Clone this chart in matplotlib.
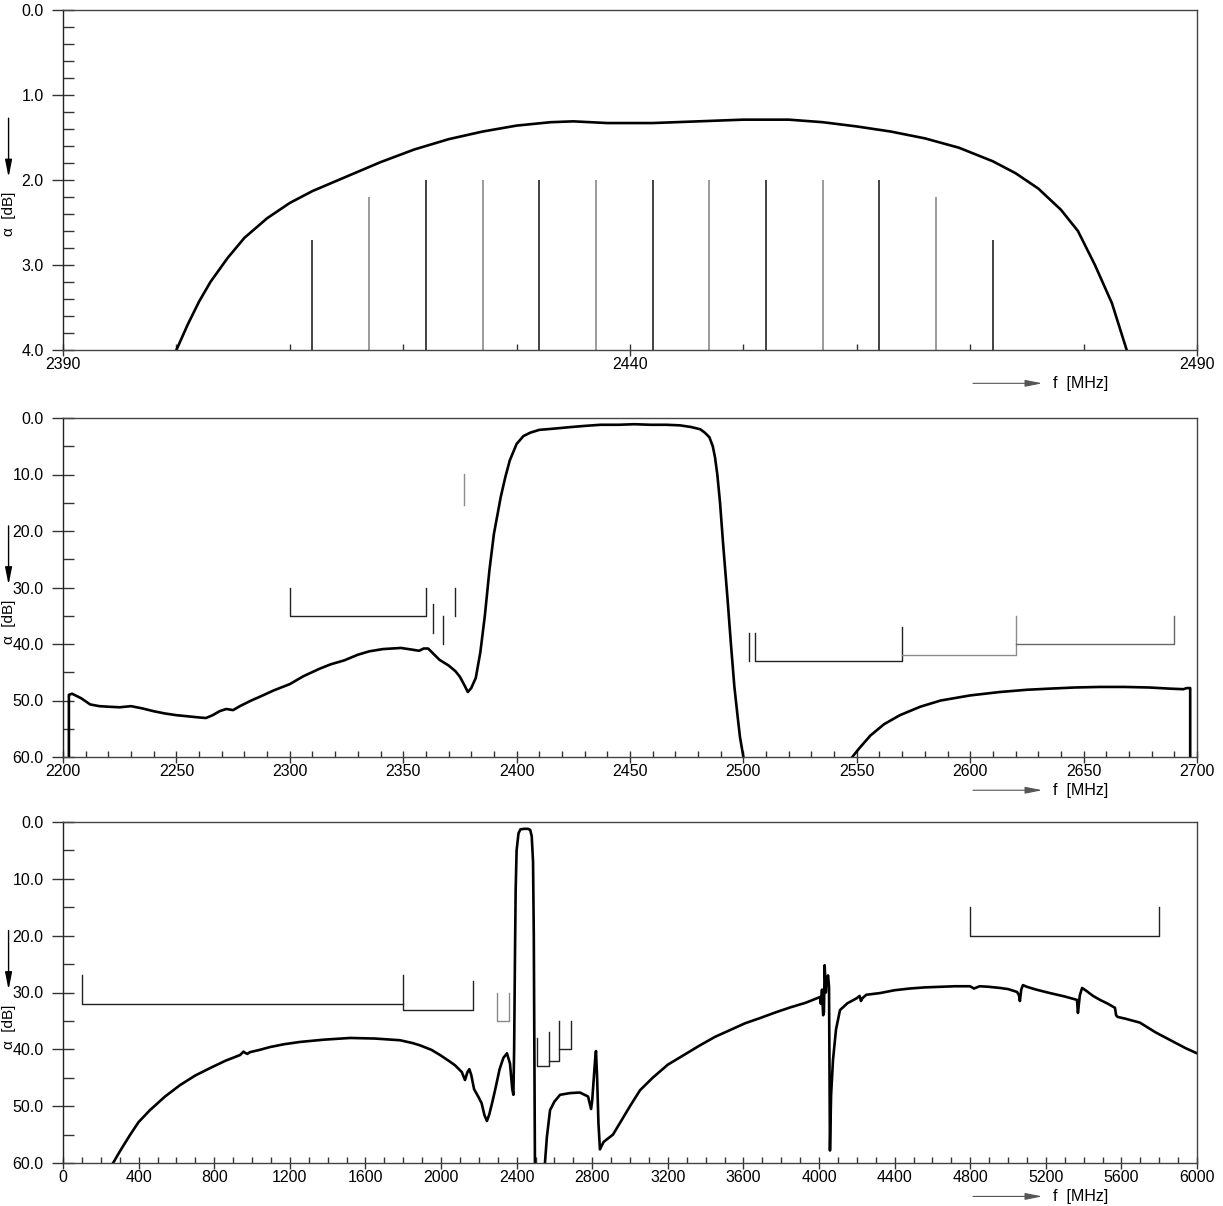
import matplotlib
matplotlib.use("Agg")
import matplotlib.pyplot as plt
from matplotlib.ticker import MultipleLocator

plt.rcParams["font.family"] = ["Liberation Sans", "DejaVu Sans"]
plt.rcParams["font.size"] = 11.5

# --- panel 1: passband detail (MHz, dB) ---
p1_freq = [2400.0, 2401.0, 2402.0, 2403.0, 2404.5, 2406.0, 2408.0, 2410.0, 2412.0,
           2415.0, 2418.0, 2421.0, 2424.0, 2427.0, 2430.0, 2433.0, 2435.0, 2438.0,
           2442.0, 2446.0, 2450.0, 2454.0, 2457.0, 2460.0, 2463.0, 2466.0, 2469.0,
           2472.0, 2474.0, 2476.0, 2478.0, 2479.5, 2481.0, 2482.5, 2483.8]
p1_att = [4.0, 3.7, 3.43, 3.2, 2.92, 2.68, 2.45, 2.27, 2.13,
          1.96, 1.79, 1.64, 1.52, 1.43, 1.36, 1.32, 1.31, 1.33,
          1.33, 1.31, 1.29, 1.29, 1.32, 1.37, 1.43, 1.51, 1.62,
          1.78, 1.92, 2.1, 2.35, 2.6, 3.0, 3.45, 4.0]

# wifi channel markers 1..13
ch_freq = [2412, 2417, 2422, 2427, 2432, 2437, 2442, 2447, 2452, 2457, 2462, 2467, 2472]
ch_top = [2.7, 2.2, 2.0, 2.0, 2.0, 2.0, 2.0, 2.0, 2.0, 2.0, 2.0, 2.2, 2.7]

# --- panel 2: 2200..2700 MHz ---
p2_low_f = [2202.6, 2202.6, 2204, 2208, 2212, 2216, 2220, 2225, 2230, 2235, 2240, 2245,
            2250, 2255, 2260, 2263, 2266, 2269, 2272, 2275, 2278, 2283, 2287, 2293,
            2300, 2306, 2313, 2318, 2324, 2330, 2335, 2341, 2349, 2354, 2357, 2359,
            2361, 2363, 2366, 2370, 2373, 2375, 2377, 2378.5, 2380, 2382, 2384, 2386,
            2388, 2390, 2393, 2395, 2397, 2400, 2403, 2406, 2410, 2416, 2424, 2430,
            2437, 2445, 2452, 2459, 2466, 2472, 2477, 2481, 2483, 2485, 2486.5, 2487.5,
            2488.5, 2489.7, 2491, 2493, 2494.5, 2496, 2497.5, 2498.5, 2500]
p2_low_a = [60, 49.0, 48.8, 49.6, 50.7, 51.0, 51.1, 51.2, 51.0, 51.4, 51.9, 52.3,
            52.6, 52.8, 53.0, 53.1, 52.6, 51.9, 51.5, 51.7, 51.0, 50.0, 49.3, 48.2,
            47.1, 45.7, 44.4, 43.6, 42.9, 41.9, 41.3, 40.9, 40.7, 41.0, 41.2, 40.8,
            40.8, 41.6, 42.8, 43.8, 44.8, 45.8, 47.3, 48.5, 47.8, 46.0, 41.5, 35.0,
            27.0, 20.5, 14.0, 10.5, 7.5, 4.6, 3.2, 2.6, 2.1, 1.9, 1.6, 1.4,
            1.2, 1.2, 1.1, 1.2, 1.2, 1.3, 1.6, 2.0, 2.6, 3.4, 5.0, 7.0,
            10.0, 15.0, 22.0, 32.0, 40.0, 47.5, 53.0, 56.5, 60.0]
p2_high_f = [2548, 2551, 2556, 2562, 2569, 2578, 2587, 2600, 2613, 2625, 2635, 2646,
             2657, 2668, 2679, 2688, 2694, 2695.5, 2697, 2697]
p2_high_a = [60, 58.5, 56.2, 54.2, 52.6, 51.1, 50.0, 49.1, 48.5, 48.1, 47.9, 47.7,
             47.6, 47.6, 47.7, 47.9, 48.0, 47.8, 47.8, 60]

# spec masks panel 2 (polylines)
m2_a_f = [2300, 2300, 2360, 2360]
m2_a_a = [30, 35, 35, 30]
m2_b_f = [2363, 2363]
m2_b_a = [33, 38]
m2_c_f = [2367.5, 2367.5]
m2_c_a = [35, 40]
m2_d_f = [2373, 2373]
m2_d_a = [30, 35]
m2_e_f = [2377, 2377]
m2_e_a = [9.9, 15.4]
m2_f_f = [2502.5, 2502.5]
m2_f_a = [38, 43]
m2_g_f = [2505, 2505, 2570, 2570]
m2_g_a = [38, 43, 43, 37]
m2_h_f = [2570, 2620, 2620]
m2_h_a = [42, 42, 35]
m2_i_f = [2620, 2690, 2690]
m2_i_a = [40, 40, 35]

# --- panel 3: 0..6000 MHz ---
p3_low_f = [265, 300, 354, 400, 460, 540, 619, 700, 778, 860, 937, 955, 963, 975, 989,
            1040, 1095, 1170, 1254, 1380, 1519, 1650, 1783, 1850, 1889, 1950, 1995,
            2040, 2074, 2110, 2127, 2140, 2150, 2160, 2175, 2200, 2215, 2230, 2243,
            2255, 2270, 2286, 2310, 2330, 2349, 2365, 2377, 2383, 2387, 2391, 2395,
            2400, 2410, 2420, 2440, 2460, 2472, 2480, 2487, 2491, 2494, 2497]
p3_low_a = [60, 58.0, 55.1, 52.8, 50.7, 48.3, 46.3, 44.6, 43.3, 42.0, 41.0, 40.4, 40.6, 40.8, 40.5,
            40.1, 39.6, 39.1, 38.7, 38.3, 38.0, 38.1, 38.4, 38.9, 39.3, 40.1, 41.0,
            42.0, 42.8, 44.0, 45.4, 44.0, 43.5, 44.5, 47.0, 48.5, 49.5, 51.6, 52.6,
            51.5, 49.5, 47.2, 43.5, 41.5, 40.7, 42.5, 47.0, 48.0, 40.0, 25.0, 12.0,
            5.0, 2.0, 1.3, 1.2, 1.2, 1.4, 2.5, 7.0, 20.0, 40.0, 60.0]
p3_high_f = [2550, 2560, 2577, 2600, 2630, 2683, 2735, 2778, 2794, 2800, 2815, 2820,
             2826, 2833, 2841, 2860, 2910, 3000, 3053, 3120, 3200, 3290, 3370, 3450,
             3530, 3610, 3688, 3770, 3850, 3930, 3990, 4005, 4010, 4016, 4022, 4026,
             4030, 4036, 4042, 4048, 4053, 4058, 4064, 4074, 4090, 4111, 4150, 4200,
             4215, 4222, 4230, 4250, 4323, 4400, 4480, 4560, 4640, 4720, 4799, 4820,
             4850, 4900, 4958, 5000, 5048, 5058, 5063, 5070, 5079, 5100, 5150, 5222,
             5300, 5365, 5370, 5380, 5392, 5410, 5450, 5487, 5530, 5566, 5572, 5580,
             5620, 5698, 5780, 5860, 5940, 6000]
p3_high_a = [60, 55.5, 50.7, 49.2, 48.0, 47.7, 47.6, 48.3, 50.5, 49.0, 42.0, 40.3,
             45.0, 53.0, 57.6, 56.3, 55.0, 50.0, 47.2, 45.0, 42.7, 40.9, 39.3, 37.8,
             36.6, 35.4, 34.5, 33.5, 32.6, 31.8, 31.0, 30.8, 32.0, 29.5, 34.0, 33.5,
             25.2, 30.0, 27.5, 27.0, 29.0, 57.8, 48.0, 41.9, 36.5, 33.1, 31.9, 31.0,
             30.6, 31.5, 31.0, 30.4, 30.1, 29.6, 29.3, 29.1, 29.0, 28.9, 28.9, 29.3,
             28.9, 29.0, 29.2, 29.4, 29.9, 30.5, 31.5, 29.5, 28.7, 29.0, 29.5, 30.1,
             30.7, 31.3, 33.6, 30.5, 29.2, 29.6, 30.6, 31.3, 32.0, 32.7, 34.0, 34.3,
             34.6, 35.3, 37.0, 38.4, 39.8, 40.7]

# spec masks panel 3
m3_a_f = [100, 100, 1800]
m3_a_a = [27, 32, 32]
m3_b_f = [1800, 1800, 2170, 2170]
m3_b_a = [27, 33, 33, 28]
m3_c_f = [2296, 2296, 2360, 2360]
m3_c_a = [30, 35, 35, 30]
m3_d_f = [2508, 2508, 2572, 2572]
m3_d_a = [38, 43, 43, 37]
m3_e_f = [2572, 2624, 2624]
m3_e_a = [42, 42, 35]
m3_f_f = [2624, 2688, 2688]
m3_f_a = [40, 40, 35]
m3_g_f = [4800, 4800, 5800, 5800]
m3_g_a = [15, 20, 20, 15]

W, H = 1223, 1206
fig = plt.figure(figsize=(W / 100, H / 100), dpi=100)

CURVE = dict(color="black", lw=1.9, solid_joinstyle="round")
DARK = "#222222"
GREY = "#8a8a8a"
LBL_X = -0.048  # y label column, left of the tick labels


def setup_axes(top_px, bot_px, xlim, ylim, xmaj, xmin, ymaj, ymin):
    left = 63 / W
    width = (1197 - 63) / W
    bottom = 1 - bot_px / H
    height = (bot_px - top_px) / H
    ax = fig.add_axes([left, bottom, width, height])
    ax.set_xlim(*xlim)
    ax.set_ylim(ylim[1], ylim[0])
    # major ticks start at the left edge of the axis
    ax.xaxis.set_major_locator(MultipleLocator(xmaj, offset=xlim[0] % xmaj))
    ax.xaxis.set_minor_locator(MultipleLocator(xmin))
    ax.yaxis.set_major_locator(MultipleLocator(ymaj))
    ax.yaxis.set_minor_locator(MultipleLocator(ymin))
    ax.yaxis.set_major_formatter(plt.FuncFormatter(lambda v, p: "{:.1f}".format(v)))
    ax.tick_params(axis="y", which="major", direction="inout", length=16, width=1.0,
                   pad=6, color="#333333")
    ax.tick_params(axis="y", which="minor", direction="in", length=8, width=1.0,
                   color="#333333")
    ax.tick_params(axis="x", which="major", direction="inout", length=8, width=1.0,
                   pad=1, color="#333333")
    ax.tick_params(axis="x", which="minor", direction="in", length=4, width=1.0,
                   color="#333333")
    for s in ax.spines.values():
        s.set_color("#444444")
        s.set_linewidth(1.0)
    ax.spines["left"].set_color("#222222")

    # y axis label with downward arrow
    ax.annotate("", xy=(LBL_X, 0.50), xytext=(LBL_X, 0.69),
                xycoords="axes fraction",
                arrowprops=dict(arrowstyle="-|>,head_length=0.9,head_width=0.18",
                                lw=1.0, color="black"), annotation_clip=False)
    ax.text(LBL_X, 0.40, "α  [dB]", rotation=90, ha="center", va="center",
            transform=ax.transAxes, fontsize=11)
    # x axis label with arrow
    ax.annotate("", xy=(0.866, -0.098), xytext=(0.80, -0.098),
                xycoords="axes fraction",
                arrowprops=dict(arrowstyle="-|>,head_length=0.9,head_width=0.18",
                                lw=0.8, color="#555555"), annotation_clip=False)
    ax.text(0.873, -0.098, "f  [MHz]", ha="left", va="center",
            transform=ax.transAxes, fontsize=11.5)
    return ax


# panel 1
ax1 = setup_axes(10, 350, (2390, 2490), (0, 4), 50, 10, 1.0, 0.2)
ax1.plot(p1_freq, p1_att, **CURVE)
ch_cols = [DARK if i % 2 == 0 else GREY for i in range(len(ch_freq))]
ax1.vlines(ch_freq, ch_top, 4.0, colors=ch_cols, lw=1.2)

# panel 2
ax2 = setup_axes(418, 757, (2200, 2700), (0, 60), 50, 10, 10, 5)
ax2.plot(p2_low_f, p2_low_a, **CURVE)
ax2.plot(p2_high_f, p2_high_a, **CURVE)
for f, a, c in [(m2_a_f, m2_a_a, DARK), (m2_b_f, m2_b_a, DARK), (m2_c_f, m2_c_a, DARK),
                (m2_d_f, m2_d_a, DARK), (m2_e_f, m2_e_a, GREY), (m2_f_f, m2_f_a, DARK),
                (m2_g_f, m2_g_a, DARK), (m2_h_f, m2_h_a, GREY), (m2_i_f, m2_i_a, "#666666")]:
    ax2.plot(f, a, color=c, lw=1.0)

# panel 3
ax3 = setup_axes(822, 1163, (0, 6000), (0, 60), 400, 100, 10, 5)
ax3.plot(p3_low_f, p3_low_a, **CURVE)
ax3.plot(p3_high_f, p3_high_a, **CURVE)
for f, a, c in [(m3_a_f, m3_a_a, DARK), (m3_b_f, m3_b_a, DARK), (m3_c_f, m3_c_a, GREY),
                (m3_d_f, m3_d_a, DARK), (m3_e_f, m3_e_a, DARK), (m3_f_f, m3_f_a, DARK),
                (m3_g_f, m3_g_a, DARK)]:
    ax3.plot(f, a, color=c, lw=1.0)

fig.savefig("out.png", dpi=100, facecolor="white")
